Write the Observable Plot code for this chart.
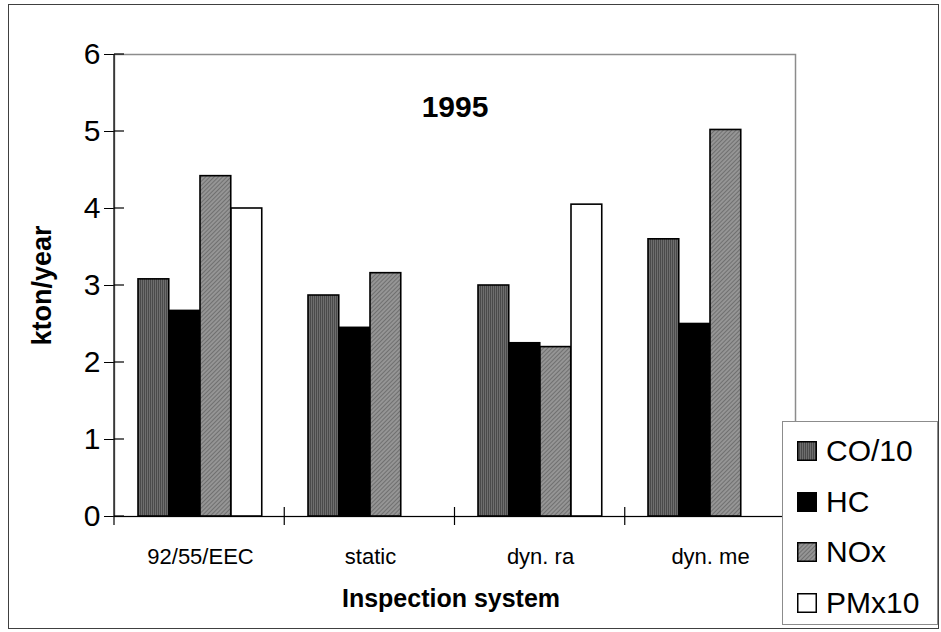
<!DOCTYPE html>
<html>
<head>
<meta charset="utf-8">
<script src="https://cdn.jsdelivr.net/npm/d3@7"></script>
<script src="https://cdn.jsdelivr.net/npm/@observablehq/plot@0.6"></script>
<style>
  body { margin: 0; background: #fff; font-family: "Liberation Sans", Arial, sans-serif; }
  #wrap { position: relative; width: 941px; height: 632px; overflow: hidden; }
  #outer { position: absolute; left: 8px; top: 4px; width: 931px; height: 625px; border: 1px solid #404040; box-sizing: border-box; }
  #chart { position: absolute; left: 0; top: 0; }
  #defs { position: absolute; width: 0; height: 0; }
  #legend { position: absolute; left: 782px; top: 421px; width: 156px; height: 204px; border: 1px solid #8c8c8c; background: #fff; box-sizing: border-box; }
  .row { position: absolute; left: 14px; height: 50px; display: flex; align-items: center; font-size: 30px; color: #000; }
  .row svg { margin-right: 9px; }
  g[aria-label^="y-axis"] text { font-size: 30px; }
  g[aria-label^="x-axis"] text { font-size: 22px; }
</style>
</head>
<body>
<div id="wrap">
  <svg id="defs" width="0" height="0">
    <defs>
      <pattern id="pat-co" width="2" height="2" patternUnits="userSpaceOnUse">
        <rect width="2" height="2" fill="#4a4a4a"/>
        <rect x="1" width="1" height="2" fill="#6e6e6e"/>
      </pattern>
      <pattern id="pat-nox" width="3" height="3" patternUnits="userSpaceOnUse" patternTransform="rotate(45)">
        <rect width="3" height="3" fill="#959595"/>
        <rect width="1" height="3" fill="#707070"/>
      </pattern>
    </defs>
  </svg>
  <div id="outer"></div>
  <div id="chart"></div>
  <div id="legend"></div>
</div>
<script>
// Inspection systems (x categories)
const systems = ["92/55/EEC", "static", "dyn. ra", "dyn. me"];
// Emission series, kton/year
const series = ["CO/10", "HC", "NOx", "PMx10"];
const coValues  = [3.08, 2.87, 3.00, 3.60];
const hcValues  = [2.67, 2.45, 2.25, 2.50];
const noxValues = [4.42, 3.16, 2.20, 5.02];
const pmValues  = [4.00, null, 4.05, null];
const yTicks = [0, 1, 2, 3, 4, 5, 6];
const chartTitle = "1995";

const fills = ["url(#pat-co)", "#000000", "url(#pat-nox)", "#ffffff"];
const valuesBySeries = [coValues, hcValues, noxValues, pmValues];

const rows = [];
series.forEach((s, i) => systems.forEach((sys, j) => {
  const v = valuesBySeries[i][j];
  if (v != null) rows.push({system: sys, series: s, value: v});
}));

const W = 941, H = 632;
const mLeft = 114, mRight = 146, mTop = 54, mBottom = 116;
const step = (W - mLeft - mRight) / systems.length;
const groupPad = 23, barW = 31;

const plot = Plot.plot({
  width: W,
  height: H,
  marginLeft: mLeft,
  marginRight: mRight,
  marginTop: mTop,
  marginBottom: mBottom,
  style: {fontFamily: "Liberation Sans, Arial, sans-serif", background: "transparent", color: "#000"},
  x: {domain: systems, padding: 0, tickSize: 0, tickPadding: 32, label: null},
  y: {domain: [0, 6], ticks: yTicks, tickFormat: d3.format("d"), tickSize: 10, tickPadding: 4, label: null},
  marks: [
    Plot.frame({stroke: "#8c8c8c", strokeWidth: 1.5}),
    ...series.map((s, i) => Plot.barY(rows.filter(r => r.series === s), {
      x: "system",
      y: "value",
      fill: fills[i],
      stroke: "#000",
      strokeWidth: 1.6,
      insetLeft: groupPad + barW * i,
      insetRight: step - groupPad - barW * (i + 1)
    })),
    Plot.ruleY([0], {stroke: "#000", strokeWidth: 1.2}),
    Plot.text([chartTitle], {text: d => d, frameAnchor: "top", lineAnchor: "middle", dy: 53, fontSize: 30, fontWeight: "bold"}),
    Plot.text(["kton/year"], {text: d => d, frameAnchor: "left", textAnchor: "middle", lineAnchor: "middle", dx: -72, rotate: -90, fontSize: 27, fontWeight: "bold"}),
    Plot.text(["Inspection system"], {text: d => d, frameAnchor: "bottom", lineAnchor: "middle", dx: -4, dy: 82, fontSize: 25, fontWeight: "bold"})
  ]
});

document.getElementById("chart").appendChild(plot);

// Axis lines and crossing tick marks, placed with the plot's own scales
const xs = plot.scale("x"), ys = plot.scale("y");
const yScale = d3.scaleLinear(ys.domain, ys.range);
const x0 = xs.range[0], x1 = xs.range[1];
const xStep = (x1 - x0) / xs.domain.length;
const y0 = yScale(0);
const svg = d3.select(plot);
const g = svg.append("g").attr("stroke", "#000").attr("stroke-width", 1.2);
g.append("line").attr("x1", x0).attr("x2", x0).attr("y1", yScale(6)).attr("y2", y0 + 9);
yTicks.forEach(t => g.append("line").attr("x1", x0).attr("x2", x0 + 10).attr("y1", yScale(t)).attr("y2", yScale(t)));
d3.range(1, xs.domain.length + 1).forEach(k => {
  const x = x0 + k * xStep;
  g.append("line").attr("x1", x).attr("x2", x).attr("y1", y0 - 9).attr("y2", y0 + 9);
});

// Legend
const legend = d3.select("#legend");
series.forEach((s, i) => {
  const row = legend.append("div").attr("class", "row").style("top", (4 + i * 50.5) + "px");
  const sw = row.append("svg").attr("width", 20).attr("height", 20);
  sw.append("rect").attr("x", 0.75).attr("y", 0.75).attr("width", 18.5).attr("height", 18.5)
    .attr("fill", fills[i]).attr("stroke", "#000").attr("stroke-width", 1.5);
  row.append("span").text(s);
});
</script>
</body>
</html>
